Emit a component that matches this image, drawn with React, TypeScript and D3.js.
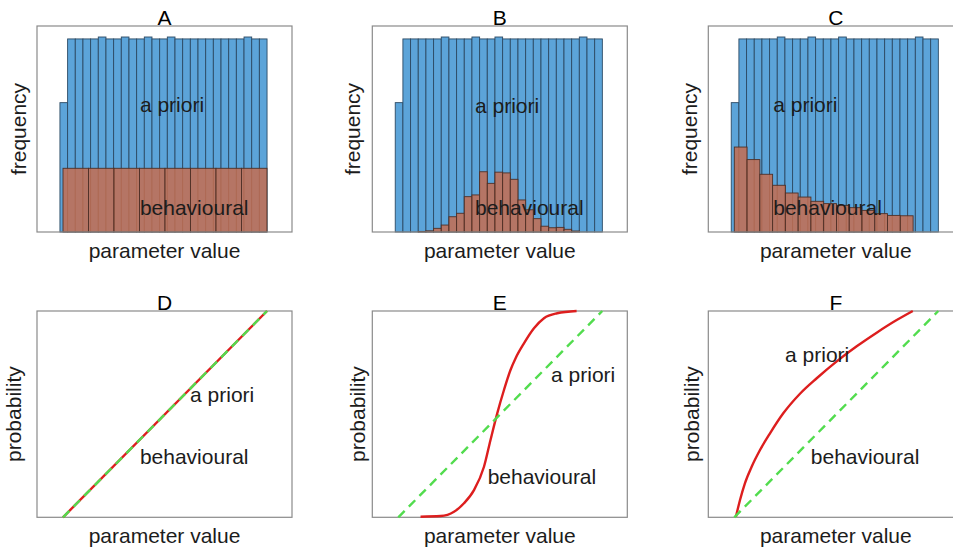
import React from "react";
import * as d3 from "d3";

// ---------- DATA ----------
const panelTitles = ["A", "B", "C", "D", "E", "F"];
const xLabel = "parameter value";
const yLabelTop = "frequency";
const yLabelBottom = "probability";
const labelPrior = "a priori";
const labelBehav = "behavioural";

// a priori histogram (27 bins, same bin edges in A, B, C)
const priorBinStart = -0.015;
const priorBinWidth = 0.0376;
const priorA = [67, 100, 100, 100, 100, 101, 100, 100, 101, 100, 100, 101, 100, 100, 101, 100, 100, 100, 100, 100, 100, 100, 100, 100, 101, 100, 100];
const priorB = [67, 100, 100, 100, 100, 100, 101, 100, 100, 100, 101, 100, 100, 101, 100, 100, 100, 100, 100, 100, 100, 100, 100, 100, 101, 100, 100];
const priorC = [67, 100, 100, 100, 100, 100, 101, 100, 100, 100, 101, 100, 100, 100, 101, 100, 100, 100, 100, 100, 100, 100, 100, 100, 101, 100, 100];

// behavioural histograms
const behavA_start = 0;
const behavA_width = 0.125;
const behavA = [33, 33, 33, 33, 33, 33, 33, 33];

const behavB_start = priorBinStart;
const behavB_width = priorBinWidth;
const behavB = [0, 0, 0, 0.3, 0.6, 1.9, 3.6, 7.9, 9.7, 18.3, 19.2, 31.2, 25.2, 31, 30.6, 27.3, 16.6, 11.5, 6.9, 3, 2.2, 2.4, 1.4, 0.5, 0, 0, 0];

const behavC_start = 0;
const behavC_width = 0.0626;
const behavC = [44, 37.5, 29.9, 24.2, 20.2, 18.1, 15.9, 14.7, 13.8, 12.6, 11.2, 9.5, 8.6, 8.4];

// cumulative curves (parameter value, probability)
const priorCdfParam = [0, 1];
const priorCdfProb = [0, 1];

const behavD_param = [0, 1];
const behavD_prob = [0, 1];

const behavE_param = [0.109, 0.207, 0.273, 0.322, 0.371, 0.42, 0.452, 0.485, 0.518, 0.55, 0.575, 0.616, 0.665, 0.714, 0.779, 0.874];
const behavE_prob = [0.003, 0.006, 0.027, 0.068, 0.132, 0.245, 0.375, 0.504, 0.617, 0.714, 0.771, 0.843, 0.916, 0.965, 0.989, 1.0];

const behavF_param = [0.008, 0.028, 0.052, 0.085, 0.126, 0.175, 0.24, 0.322, 0.404, 0.502, 0.6, 0.698, 0.796, 0.875];
const behavF_prob = [0.003, 0.084, 0.165, 0.245, 0.326, 0.407, 0.504, 0.599, 0.674, 0.756, 0.829, 0.895, 0.956, 1.0];

// ---------- LAYOUT / STYLE ----------
const W = 953;
const H = 550;
const FONT = "Arial, 'Liberation Sans', Helvetica, sans-serif";
const FS = 21;
const BLUE = "#5ca4d9";
const BLUE_EDGE = "#2c4a64";
const BROWN = "#c46d50";
const BROWN_EDGE = "#4f3027";
const RED = "#dd1e1e";
const GREEN = "#52dc4e";
const FRAME = "#8a8a8a";
const TEXT = "#1c1c1c";

const colLefts = [37, 372.3, 708.3];
const frameW = 255;
const topRow = { top: 26, bottom: 232 };
const botRow = { top: 311, bottom: 517.3 };
const paramDomain = [-26 / 204, 229 / 204];

type HistPanel = {
  title: string;
  left: number;
  prior: number[];
  behav: number[];
  behavStart: number;
  behavWidth: number;
  yOff: number;
  priorLbl: [number, number];
  behavLbl: [number, number];
};

const histPanels: HistPanel[] = [
  { title: panelTitles[0], left: colLefts[0], prior: priorA, behav: behavA, behavStart: behavA_start, behavWidth: behavA_width, yOff: 11.5, priorLbl: [0.377, 62], behavLbl: [0.377, 8.8] },
  { title: panelTitles[1], left: colLefts[1], prior: priorB, behav: behavB, behavStart: behavB_start, behavWidth: behavB_width, yOff: 12.7, priorLbl: [0.376, 61.7], behavLbl: [0.376, 8.8] },
  { title: panelTitles[2], left: colLefts[2], prior: priorC, behav: behavC, behavStart: behavC_start, behavWidth: behavC_width, yOff: 11.3, priorLbl: [0.191, 62], behavLbl: [0.191, 8.8] },
];

type CdfPanel = {
  title: string;
  left: number;
  bp: number[];
  bq: number[];
  yOff: number;
  priorLbl: [number, number];
  behavLbl: [number, number];
};

const cdfPanels: CdfPanel[] = [
  { title: panelTitles[3], left: colLefts[0], bp: behavD_param, bq: behavD_prob, yOff: 15.7, priorLbl: [0.623, 0.56], behavLbl: [0.377, 0.257] },
  { title: panelTitles[4], left: colLefts[1], bp: behavE_param, bq: behavE_prob, yOff: 7, priorLbl: [0.749, 0.657], behavLbl: [0.438, 0.161] },
  { title: panelTitles[5], left: colLefts[2], bp: behavF_param, bq: behavF_prob, yOff: 9.3, priorLbl: [0.249, 0.754], behavLbl: [0.375, 0.257] },
];

function Labels({ left, top, bottom, title, ylabel, yOff }: any) {
  const cx = left + frameW / 2;
  const cy = (top + bottom) / 2;
  const bx = left - yOff;
  return (
    <g fontFamily={FONT} fontSize={FS} fill={TEXT}>
      <text x={cx} y={top - 1} textAnchor="middle" fill="#000">{title}</text>
      <text x={cx} y={bottom + 26} textAnchor="middle">{xLabel}</text>
      <text transform={`translate(${bx},${cy}) rotate(-90)`} textAnchor="middle">{ylabel}</text>
    </g>
  );
}

function Hist({ p }: { p: HistPanel }) {
  const x = d3.scaleLinear().domain(paramDomain).range([p.left, p.left + frameW]);
  const y = d3.scaleLinear().domain([0, 106.7]).range([topRow.bottom, topRow.top]);
  return (
    <g>
      {p.prior.map((v, i) => {
        const x0 = x(priorBinStart + i * priorBinWidth);
        const x1 = x(priorBinStart + (i + 1) * priorBinWidth);
        return <rect key={"p" + i} x={x0} y={y(v)} width={x1 - x0} height={y(0) - y(v)} fill={BLUE} stroke={BLUE_EDGE} strokeWidth={0.9} />;
      })}
      {p.behav.map((v, i) => {
        if (v <= 0) return null;
        const x0 = x(p.behavStart + i * p.behavWidth);
        const x1 = x(p.behavStart + (i + 1) * p.behavWidth);
        return <rect key={"b" + i} x={x0} y={y(v)} width={x1 - x0} height={y(0) - y(v)} fill={BROWN} fillOpacity={0.85} stroke={BROWN_EDGE} strokeWidth={0.9} />;
      })}
      <rect x={p.left} y={topRow.top} width={frameW} height={topRow.bottom - topRow.top} fill="none" stroke={FRAME} strokeWidth={1.2} />
      <g fontFamily={FONT} fontSize={FS} fill={TEXT}>
        <text x={x(p.priorLbl[0])} y={y(p.priorLbl[1])}>{labelPrior}</text>
        <text x={x(p.behavLbl[0])} y={y(p.behavLbl[1])}>{labelBehav}</text>
      </g>
      <Labels left={p.left} top={topRow.top} bottom={topRow.bottom} title={p.title} ylabel={yLabelTop} yOff={p.yOff} />
    </g>
  );
}

function Cdf({ p }: { p: CdfPanel }) {
  const x = d3.scaleLinear().domain(paramDomain).range([p.left, p.left + frameW]);
  const y = d3.scaleLinear().domain([0, 1]).range([botRow.bottom, botRow.top]);
  const line = d3.line<[number, number]>().x((d) => x(d[0])).y((d) => y(d[1])).curve(d3.curveMonotoneX);
  const behavPts = p.bp.map((v, i) => [v, p.bq[i]] as [number, number]);
  const priorPts = priorCdfParam.map((v, i) => [v, priorCdfProb[i]] as [number, number]);
  return (
    <g>
      <rect x={p.left} y={botRow.top} width={frameW} height={botRow.bottom - botRow.top} fill="none" stroke={FRAME} strokeWidth={1.2} />
      <path d={line(behavPts) || ""} fill="none" stroke={RED} strokeWidth={2.4} />
      <path d={line(priorPts) || ""} fill="none" stroke={GREEN} strokeWidth={2.4} strokeDasharray="9 6" />
      <g fontFamily={FONT} fontSize={FS} fill={TEXT}>
        <text x={x(p.priorLbl[0])} y={y(p.priorLbl[1])}>{labelPrior}</text>
        <text x={x(p.behavLbl[0])} y={y(p.behavLbl[1])}>{labelBehav}</text>
      </g>
      <Labels left={p.left} top={botRow.top} bottom={botRow.bottom} title={p.title} ylabel={yLabelBottom} yOff={p.yOff} />
    </g>
  );
}

export default function App() {
  return (
    <svg width={W} height={H} style={{ position: "absolute", left: 0, top: 0, display: "block", background: "#fff" }}>
      <rect x={0} y={0} width={W} height={H} fill="#fff" />
      {histPanels.map((p) => <Hist key={p.title} p={p} />)}
      {cdfPanels.map((p) => <Cdf key={p.title} p={p} />)}
    </svg>
  );
}
